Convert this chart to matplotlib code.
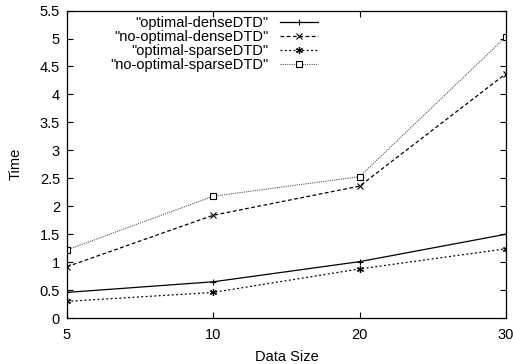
import matplotlib
matplotlib.use("Agg")
import matplotlib.pyplot as plt
from matplotlib.ticker import FuncFormatter

sizes = ["5", "10", "20", "30"]
optimal_dense = [0.46, 0.65, 1.01, 1.50]
no_optimal_dense = [0.92, 1.84, 2.36, 4.37]
optimal_sparse = [0.30, 0.46, 0.88, 1.24]
no_optimal_sparse = [1.22, 2.18, 2.53, 5.03]
labels = ['"optimal-denseDTD"', '"no-optimal-denseDTD"', '"optimal-sparseDTD"', '"no-optimal-sparseDTD"']

plt.rcParams['font.family'] = ['Liberation Sans', 'DejaVu Sans']
fig = plt.figure(figsize=(5.13, 3.64), dpi=100)
ax = fig.add_axes([0.1306, 0.126, 0.8554, 0.845])
x = list(range(len(sizes)))

ax.plot(x, optimal_dense, color='black', lw=0.9, ls='-', marker='+', ms=5, mew=0.8, label=labels[0])
ax.plot(x, no_optimal_dense, color='black', lw=0.9, ls=(0, (3, 2)), marker='x', ms=4, mew=0.8, label=labels[1])
ax.plot(x, optimal_sparse, color='black', lw=0.9, ls=(0, (1.5, 2)), marker=(6, 2, 0), ms=5, mew=0.9, label=labels[2])
ax.plot(x, no_optimal_sparse, color='#555555', lw=0.8, ls=(0, (1, 1)), marker='s', ms=4, mew=0.8,
        mfc='white', mec='black', label=labels[3])

ax.set_xlim(0, 3)
ax.set_ylim(0, 5.5)
ax.set_xticks(x)
ax.set_xticklabels(sizes)
ax.set_yticks([i * 0.5 for i in range(12)])
ax.yaxis.set_major_formatter(FuncFormatter(lambda v, p: ('%g' % v)))
ax.tick_params(direction='in', top=True, right=True, length=4, width=0.8, labelsize=10.5, pad=5)
ax.tick_params(axis='x', pad=7)
for s in ax.spines.values():
    s.set_linewidth(0.9)
ax.set_xlabel('Data Size', fontsize=10.5, labelpad=6)
ax.set_ylabel('Time', fontsize=10.5, labelpad=12)

ax.legend(loc='upper left', bbox_to_anchor=(0.085, 1.0), frameon=False, markerfirst=False,
          numpoints=1, fontsize=10.5, handlelength=2.6, handletextpad=0.8, labelspacing=0.0,
          borderaxespad=0.0)

fig.savefig('out.png', dpi=100)
